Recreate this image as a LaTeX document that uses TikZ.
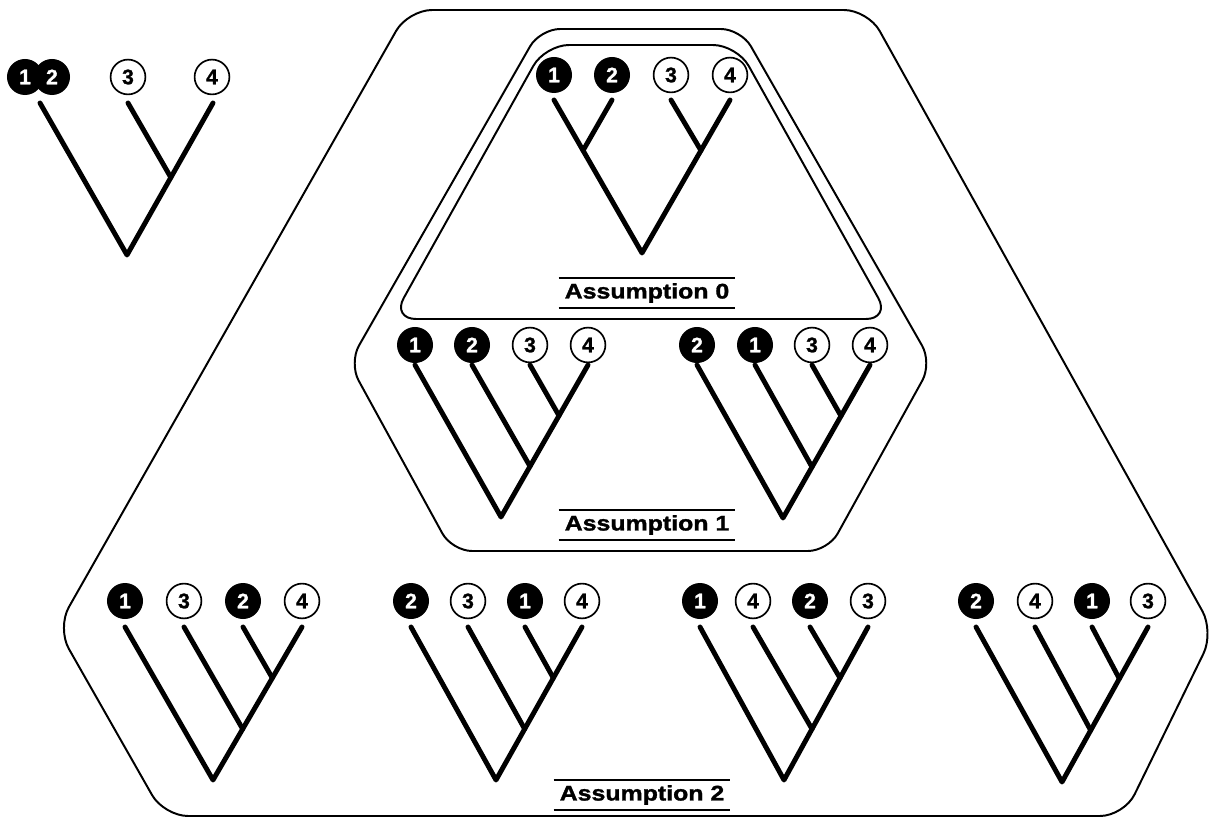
\documentclass[tikz,border=0pt]{standalone}
\usepackage{fontspec}
\setmainfont{Liberation Sans}
\newfontfamily\tagfont{Liberation Sans}[FakeStretch=1.18, BoldFeatures={FakeBold=1.5}]
\newfontfamily\numfont{Liberation Sans}[BoldFeatures={FakeBold=1.2}]
\usetikzlibrary{calc}

% caterpillar tree: name, leaves {label/x}, circle row, leaf top, root
\newcommand{\cattree}[5]{%
  \foreach \lab/\xx [count=\i] in {#2}{%
    \ifnum\lab<3 \def\leafstyle{dark}\else\def\leafstyle{light}\fi
    \node[\leafstyle] (#1\i) at (\xx,#3) {\lab};
    \coordinate (#1t\i) at (\xx,#4);
  }
  \coordinate (#1r) at (#5);
  \coordinate (#1j3) at ($(#1t4)!1/3!(#1r)$);
  \coordinate (#1j2) at ($(#1t4)!2/3!(#1r)$);
  \draw[branch] (#1t1) -- (#1r) -- (#1t4);
  \draw[branch] (#1t2) -- (#1j2);
  \draw[branch] (#1t3) -- (#1j3);
}

\begin{document}
\begin{tikzpicture}[x=0.025cm, y=-0.025cm,
    dark/.style={circle, fill=black, text=white, minimum size=0.9cm, inner sep=0pt,
      font=\numfont\bfseries\fontsize{15}{15}\selectfont},
    light/.style={circle, draw, line width=1.2pt, fill=white, minimum size=0.87cm, inner sep=0pt,
      font=\numfont\bfseries\fontsize{15}{15}\selectfont},
    branch/.style={line width=3.5pt, line cap=round, line join=round},
    frame/.style={line width=1.4pt},
    tag/.style={font=\tagfont\bfseries\fontsize{15}{17}\selectfont, minimum width=4.4cm,
      minimum height=0.75cm, inner sep=0pt},
    rule/.style={line width=1.5pt}]
    \useasboundingbox (0,0) rectangle (1214,819);

    % Rahmen
    \draw[frame, rounded corners=0.6cm] (640,10) -- (868,10) -- (1214,632) -- (1124,816)
        -- (164,816) -- (57,628) -- (408,10) -- cycle;
    \draw[frame, rounded corners=0.5cm] (640,29) -- (741,29) -- (932,363) -- (828,551)
        -- (452,551) -- (349,363) -- (540,29) -- cycle;
    \draw[frame, rounded corners=0.6cm] (640,45) -- (737,45) -- (890,319)
        -- (392,319) -- (545,45) -- cycle;

    % Baum oben links
    \node[dark] (l2) at (52,77) {2};
    \node[dark] (l1) at (25,77) {1};
    \node[light] (l3) at (128,77) {3};
    \node[light] (l4) at (212,77) {4};
    \coordinate (lt12) at (40,103);
    \coordinate (lt3) at (128,103);
    \coordinate (lt4) at (213,103);
    \coordinate (lr) at (127,255);
    \coordinate (lj) at ($(lt4)!0.49!(lr)$);
    \draw[branch] (lt12) -- (lr) -- (lt4);
    \draw[branch] (lt3) -- (lj);

    % Assumption 0
    \node[dark] (z1) at (554,75) {1};
    \node[dark] (z2) at (612,75) {2};
    \node[light] (z3) at (671,75) {3};
    \node[light] (z4) at (730,75) {4};
    \coordinate (zt1) at (554,100);
    \coordinate (zt2) at (612,100);
    \coordinate (zt3) at (671,100);
    \coordinate (zt4) at (730,100);
    \coordinate (zr) at (642,253);
    \coordinate (zj12) at ($(zt1)!0.33!(zr)$);
    \coordinate (zj34) at ($(zt4)!0.33!(zr)$);
    \draw[branch] (zt1) -- (zr) -- (zt4);
    \draw[branch] (zt2) -- (zj12);
    \draw[branch] (zt3) -- (zj34);
    \node[tag] (a0) at (647,293) {Assumption 0};
    \draw[rule] (a0.north west) -- (a0.north east);
    \draw[rule] (a0.south west) -- (a0.south east);

    % Assumption 1
    \cattree{p}{1/415,2/472,3/530,4/588}{345}{365}{501,517}
    \cattree{q}{2/697,1/755,3/812,4/870}{345}{365}{783,518}
    \node[tag] (a1) at (647,525) {Assumption 1};
    \draw[rule] (a1.north west) -- (a1.north east);
    \draw[rule] (a1.south west) -- (a1.south east);

    % Assumption 2
    \cattree{s}{1/125,3/184,2/243,4/302}{601}{627}{213,780}
    \cattree{u}{2/411,3/468,1/525,4/582}{601}{627}{496,780}
    \cattree{v}{1/700,4/753,2/810,3/868}{601}{627}{784,780}
    \cattree{w}{2/976,4/1035,1/1092,3/1148}{601}{627}{1062,782}
    \node[tag] (a2) at (642,795) {Assumption 2};
    \draw[rule] (a2.north west) -- (a2.north east);
    \draw[rule] (a2.south west) -- (a2.south east);
\end{tikzpicture}
\end{document}
